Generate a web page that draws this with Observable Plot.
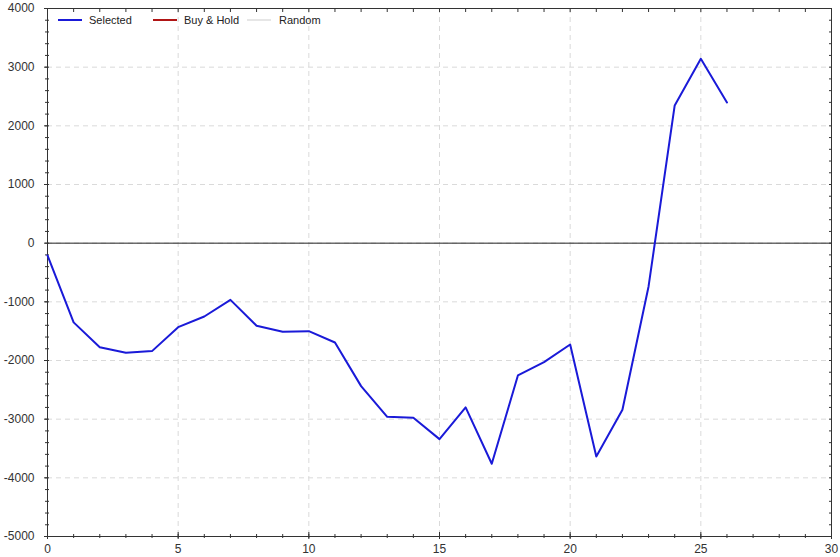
<!DOCTYPE html>
<html>
<head>
<meta charset="utf-8">
<script src="https://cdn.jsdelivr.net/npm/d3@7"></script>
<script src="https://cdn.jsdelivr.net/npm/@observablehq/plot@0.6"></script>
<style>
  html, body { margin: 0; padding: 0; background: #fff; }
  #wrap { position: relative; width: 840px; height: 557px; font-family: "Liberation Sans", Arial, sans-serif; }
  #legend { position: absolute; left: 0; top: 0; font-size: 11px; color: #222; }
  .item { position: absolute; top: 13px; height: 14px; line-height: 14px; white-space: nowrap; }
  .sw { position: absolute; top: 6px; width: 24px; height: 2px; }
</style>
</head>
<body>
<div id="wrap"><div id="legend"></div></div>
<script>
// Data
const periods = [0,1,2,3,4,5,6,7,8,9,10,11,12,13,14,15,16,17,18,19,20,21,22,23,24,25,26];
const selected = [-210,-1350,-1773,-1869,-1840,-1432,-1250,-966,-1409,-1510,-1500,-1693,-2437,-2960,-2977,-3340,-2800,-3760,-2255,-2028,-1727,-3636,-2840,-738,2347,3143,2398];
const seriesNames = ["Selected", "Buy & Hold", "Random"];
const seriesColors = ["#1a1ad8", "#b01515", "#e6e6e6"];
const xMajorTicks = [0,5,10,15,20,25,30];
const yMajorTicks = [-5000,-4000,-3000,-2000,-1000,0,1000,2000,3000,4000];

const xMinorTicks = d3.range(0, 31, 1);
const yMinorTicks = d3.range(-5000, 4001, 200);

const data = periods.map((p, i) => ({x: p, y: selected[i]}));
const axisColor = "#333";

const chart = Plot.plot({
  width: 840,
  height: 557,
  marginLeft: 47,
  marginRight: 9,
  marginTop: 8,
  marginBottom: 21,
  style: {fontFamily: "'Liberation Sans', Arial, sans-serif", fontSize: "12px", background: "#fff", color: axisColor},
  x: {domain: [0, 30]},
  y: {domain: [-5000, 4000]},
  marks: [
    Plot.gridX(xMajorTicks.slice(1, -1), {stroke: "#dadada", strokeOpacity: 1, strokeDasharray: "5,4"}),
    Plot.gridY(yMajorTicks.slice(1, -1), {stroke: "#dadada", strokeOpacity: 1, strokeDasharray: "5,4"}),
    Plot.ruleY([0], {stroke: "#222", strokeWidth: 1}),
    // bottom axis
    Plot.axisX({anchor: "bottom", ticks: xMinorTicks, tickSize: 2, text: null, stroke: axisColor, label: null}),
    Plot.axisX({anchor: "bottom", ticks: xMinorTicks, tickSize: -2, text: null, stroke: axisColor, label: null}),
    Plot.axisX({anchor: "bottom", ticks: xMajorTicks, tickSize: -4, text: null, stroke: axisColor, label: null}),
    Plot.axisX({anchor: "bottom", ticks: xMajorTicks, tickSize: 3, tickPadding: 5, stroke: axisColor, fill: axisColor, label: null}),
    // top axis
    Plot.axisX({anchor: "top", ticks: xMinorTicks, tickSize: -3, text: null, stroke: axisColor, label: null}),
    // left axis
    Plot.axisY({anchor: "left", ticks: yMinorTicks, tickSize: 2, text: null, stroke: axisColor, label: null}),
    Plot.axisY({anchor: "left", ticks: yMinorTicks, tickSize: -2, text: null, stroke: axisColor, label: null}),
    Plot.axisY({anchor: "left", ticks: yMajorTicks, tickSize: 3, tickPadding: 10, stroke: axisColor, fill: axisColor, label: null, tickFormat: d => String(d)}),
    // right axis
    Plot.axisY({anchor: "right", ticks: yMinorTicks, tickSize: -3, text: null, stroke: axisColor, label: null}),
    Plot.frame({stroke: axisColor}),
    Plot.line(data, {x: "x", y: "y", stroke: seriesColors[0], strokeWidth: 2})
  ]
});

const wrap = document.getElementById("wrap");
wrap.insertBefore(chart, wrap.firstChild);

const legend = document.getElementById("legend");
const swLeft = [58, 153, 247];
const txtLeft = [89, 184, 279];
seriesNames.forEach((name, i) => {
  const sw = document.createElement("div");
  sw.className = "sw item";
  sw.style.left = swLeft[i] + "px";
  sw.style.top = "19px";
  sw.style.background = seriesColors[i];
  sw.style.height = "2px";
  legend.appendChild(sw);
  const t = document.createElement("div");
  t.className = "item";
  t.style.left = txtLeft[i] + "px";
  t.textContent = name;
  legend.appendChild(t);
});
</script>
</body>
</html>
